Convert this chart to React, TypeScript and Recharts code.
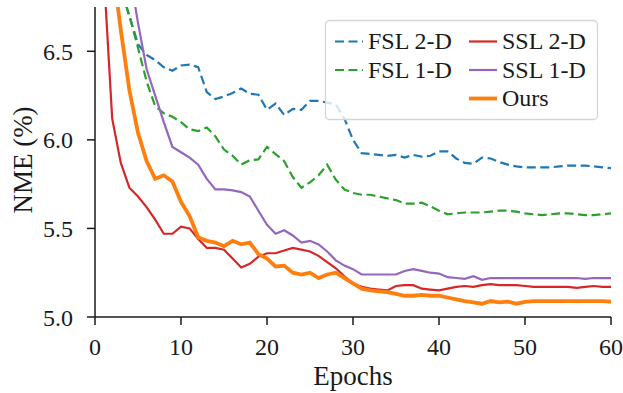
import React from 'react';
import { LineChart, Line, XAxis, YAxis } from 'recharts';

const epochs = [
  0, 1, 2, 3, 4, 5, 6, 7, 8, 9, 10, 11, 12, 13, 14, 15, 16, 17, 18, 19, 20,
  21, 22, 23, 24, 25, 26, 27, 28, 29, 30, 31, 32, 33, 34, 35, 36, 37, 38, 39, 40,
  41, 42, 43, 44, 45, 46, 47, 48, 49, 50, 51, 52, 53, 54, 55, 56, 57, 58, 59, 60,
];

const fsl2d = [
  8.5, 7.8, 7.3, 6.85, 6.7, 6.54, 6.48, 6.45, 6.41, 6.39, 6.42,
  6.425, 6.41, 6.27, 6.23, 6.245, 6.265, 6.29, 6.26, 6.255, 6.17,
  6.205, 6.14, 6.175, 6.17, 6.22, 6.22, 6.21, 6.2, 6.12, 6.0,
  5.925, 5.92, 5.915, 5.91, 5.915, 5.9, 5.915, 5.905, 5.91, 5.935,
  5.935, 5.895, 5.87, 5.865, 5.9, 5.895, 5.875, 5.86, 5.85, 5.845,
  5.845, 5.845, 5.845, 5.85, 5.855, 5.855, 5.855, 5.85, 5.845, 5.84,
];

const fsl1d = [
  8.5, 7.8, 7.3, 6.85, 6.7, 6.52, 6.33, 6.19, 6.15, 6.13, 6.1,
  6.06, 6.05, 6.07, 6.02, 5.945, 5.91, 5.86, 5.885, 5.89, 5.96,
  5.92, 5.88, 5.79, 5.73, 5.76, 5.8, 5.86, 5.775, 5.72, 5.7,
  5.69, 5.69, 5.68, 5.67, 5.66, 5.64, 5.64, 5.645, 5.625, 5.6,
  5.58, 5.585, 5.59, 5.59, 5.59, 5.595, 5.6, 5.6, 5.595, 5.585,
  5.58, 5.575, 5.58, 5.585, 5.585, 5.58, 5.575, 5.575, 5.58, 5.585,
];

const ssl2d = [
  8.0, 6.96, 6.12, 5.87, 5.73, 5.68, 5.62, 5.55, 5.47, 5.47, 5.51,
  5.5, 5.44, 5.39, 5.39, 5.38, 5.33, 5.28, 5.3, 5.34, 5.36,
  5.36, 5.375, 5.39, 5.38, 5.37, 5.345, 5.31, 5.275, 5.23, 5.19,
  5.17, 5.16, 5.155, 5.15, 5.175, 5.18, 5.18, 5.16, 5.155, 5.15,
  5.16, 5.17, 5.175, 5.17, 5.18, 5.185, 5.18, 5.18, 5.18, 5.175,
  5.17, 5.17, 5.17, 5.17, 5.17, 5.165, 5.17, 5.175, 5.17, 5.17,
];

const ssl1d = [
  8.5, 8.0, 7.6, 7.3, 6.95, 6.66, 6.4, 6.25, 6.1, 5.96, 5.93,
  5.9, 5.86, 5.78, 5.72, 5.72, 5.715, 5.705, 5.68, 5.6, 5.52,
  5.47, 5.49, 5.46, 5.42, 5.43, 5.41, 5.37, 5.32, 5.29, 5.27,
  5.24, 5.24, 5.24, 5.24, 5.24, 5.26, 5.27, 5.26, 5.25, 5.245,
  5.225, 5.22, 5.215, 5.23, 5.21, 5.22, 5.22, 5.22, 5.22, 5.22,
  5.22, 5.22, 5.22, 5.22, 5.22, 5.22, 5.215, 5.22, 5.22, 5.22,
];

const ours = [
  8.5, 7.6, 7.0, 6.62, 6.28, 6.04, 5.88, 5.78, 5.8, 5.765, 5.65,
  5.57, 5.45, 5.43, 5.42, 5.4, 5.43, 5.41, 5.42, 5.355, 5.33,
  5.285, 5.29, 5.25, 5.24, 5.25, 5.22, 5.24, 5.25, 5.22, 5.19,
  5.16, 5.15, 5.145, 5.14, 5.13, 5.12, 5.12, 5.125, 5.12, 5.12,
  5.11, 5.1, 5.09, 5.083, 5.075, 5.09, 5.083, 5.087, 5.075, 5.085,
  5.09, 5.09, 5.09, 5.09, 5.09, 5.09, 5.09, 5.09, 5.09, 5.087,
];

const xTicks = [0, 10, 20, 30, 40, 50, 60];
const yTicks = [5.0, 5.5, 6.0, 6.5];
const seriesNames = ['FSL 2-D', 'FSL 1-D', 'SSL 2-D', 'SSL 1-D', 'Ours'];
const xLabel = 'Epochs';
const yLabel = 'NME (%)';

const data = epochs.map((e, i) => ({
  epoch: e,
  fsl2d: fsl2d[i],
  fsl1d: fsl1d[i],
  ssl2d: ssl2d[i],
  ssl1d: ssl1d[i],
  ours: ours[i],
}));

const FONT = '"Liberation Serif", "Times New Roman", serif';
const INK = '#1a1a1a';
const C = {
  blue: '#1f77b4',
  green: '#2ca02c',
  red: '#d62728',
  purple: '#9467bd',
  orange: '#ff7f0e',
};
const DASH = '9 4.5';

const LegendBox = () => {
  const rows = [
    { x: 335, y: 41.5, color: C.blue, dash: true, name: seriesNames[0] },
    { x: 335, y: 70, color: C.green, dash: true, name: seriesNames[1] },
    { x: 469, y: 41.5, color: C.red, dash: false, name: seriesNames[2], w: 2.2 },
    { x: 469, y: 70, color: C.purple, dash: false, name: seriesNames[3], w: 2.2 },
    { x: 469, y: 98.5, color: C.orange, dash: false, name: seriesNames[4], w: 3.8 },
  ];
  return (
    <svg
      width={623}
      height={393}
      style={{ position: 'absolute', left: 0, top: 0, pointerEvents: 'none' }}
    >
      <rect
        x={325.5}
        y={20.5}
        width={272}
        height={99}
        rx={4}
        ry={4}
        fill="#ffffff"
        fillOpacity={0.8}
        stroke="#d5d5d5"
        strokeWidth={1.3}
      />
      {rows.map((r) => (
        <g key={r.name}>
          <line
            x1={r.x}
            x2={r.x + 28}
            y1={r.y}
            y2={r.y}
            stroke={r.color}
            strokeWidth={r.w ?? 2.2}
            strokeDasharray={r.dash ? DASH : undefined}
          />
          <text
            x={r.x + 33}
            y={r.y + 7.5}
            fontFamily={FONT}
            fontSize={24}
            fill={INK}
          >
            {r.name}
          </text>
        </g>
      ))}
    </svg>
  );
};

const YLabel = () => (
  <text
    x={32}
    y={160}
    transform="rotate(-90 32 160)"
    textAnchor="middle"
    fontFamily={FONT}
    fontSize={27}
    fill={INK}
  >
    {yLabel}
  </text>
);

export default function App() {
  return (
    <div style={{ position: 'absolute', left: 0, top: 0, width: 623, height: 393, background: '#fff' }}>
      <LineChart
        width={623}
        height={393}
        data={data}
        margin={{ top: 7, right: 12, bottom: 0, left: 0 }}
      >
        <XAxis
          dataKey="epoch"
          type="number"
          domain={[0, 60]}
          ticks={xTicks}
          interval={0}
          height={76}
          tickSize={8}
          tickMargin={13}
          stroke={INK}
          strokeWidth={1.5}
          tick={{ fill: INK, fontFamily: FONT, fontSize: 24 }}
          label={{
            value: xLabel,
            position: 'insideBottom',
            offset: 8,
            fill: INK,
            fontFamily: FONT,
            fontSize: 27,
          }}
        />
        <XAxis
          xAxisId="top"
          orientation="top"
          type="number"
          domain={[0, 60]}
          height={0}
          tick={false}
          tickLine={false}
          stroke={INK}
          strokeWidth={1.5}
        />
        <YAxis
          type="number"
          domain={[5.0, 6.75]}
          allowDataOverflow
          ticks={yTicks}
          interval={0}
          width={95}
          tickSize={8}
          tickMargin={14}
          stroke={INK}
          strokeWidth={1.5}
          tickFormatter={(v: number) => v.toFixed(1)}
          tick={{ fill: INK, fontFamily: FONT, fontSize: 24 }}
          label={{ content: () => <YLabel /> }}
        />
        <YAxis
          yAxisId="right"
          orientation="right"
          type="number"
          domain={[5.0, 6.75]}
          width={0}
          tick={false}
          tickLine={false}
          stroke={INK}
          strokeWidth={1.5}
        />
        <Line
          dataKey="fsl2d"
          name={seriesNames[0]}
          stroke={C.blue}
          strokeWidth={2.2}
          strokeDasharray={DASH}
          dot={false}
          isAnimationActive={false}
        />
        <Line
          dataKey="fsl1d"
          name={seriesNames[1]}
          stroke={C.green}
          strokeWidth={2.2}
          strokeDasharray={DASH}
          dot={false}
          isAnimationActive={false}
        />
        <Line
          dataKey="ssl2d"
          name={seriesNames[2]}
          stroke={C.red}
          strokeWidth={2.2}
          dot={false}
          isAnimationActive={false}
        />
        <Line
          dataKey="ssl1d"
          name={seriesNames[3]}
          stroke={C.purple}
          strokeWidth={2.2}
          dot={false}
          isAnimationActive={false}
        />
        <Line
          dataKey="ours"
          name={seriesNames[4]}
          stroke={C.orange}
          strokeWidth={3.8}
          dot={false}
          isAnimationActive={false}
        />
      </LineChart>
      <LegendBox />
    </div>
  );
}
